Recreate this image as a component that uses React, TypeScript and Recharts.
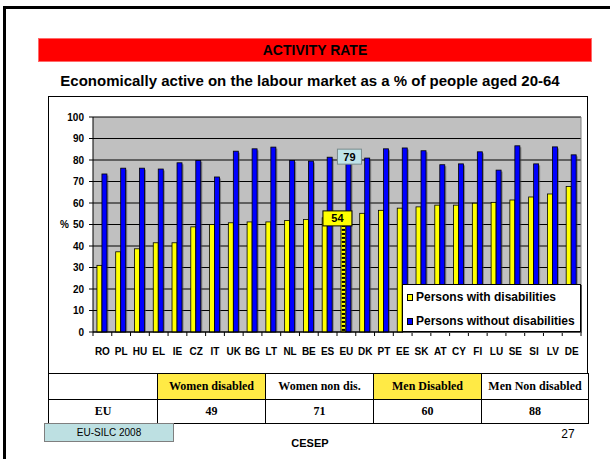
import React from "react";
import { BarChart, Bar, XAxis, YAxis, CartesianGrid } from "recharts";

const countries = [
  "RO", "PL", "HU", "EL", "IE", "CZ", "IT", "UK", "BG", "LT", "NL", "BE", "ES",
  "EU", "DK", "PT", "EE", "SK", "AT", "CY", "FI", "LU", "SE", "SI", "LV", "DE",
];
const withDisabilities = [
  31, 37.3, 38.7, 41.5, 41.5, 48.9, 50, 50.8, 51.2, 51.2, 51.9, 52.3, 53.1,
  54, 55.2, 56.6, 57.6, 58.2, 59, 59, 59.9, 60.3, 61.4, 62.8, 64.2, 67.7,
];
const withoutDisabilities = [
  73.5, 76.2, 76.2, 75.8, 78.7, 79.8, 72.1, 84.1, 85.2, 86, 79.8, 79.5, 81.3,
  79, 80.9, 85.2, 85.6, 84.3, 77.8, 78.2, 83.8, 75.3, 86.6, 78.2, 86.1, 82.4,
];
const yTicks = [0, 10, 20, 30, 40, 50, 60, 70, 80, 90, 100];
const seriesNames = ["Persons with disabilities", "Persons without disabilities"];
const tableHeads = ["Women disabled", "Women non dis.", "Men Disabled", "Men Non disabled"];
const tableRowLabel = "EU";
const tableEU = [49, 71, 60, 88];

const chartData = countries.map((country, i) => ({
  country,
  with: withDisabilities[i],
  without: withoutDisabilities[i],
}));

const SANS = "'Liberation Sans', Arial, sans-serif";
const SERIF = "'Liberation Serif', 'Times New Roman', serif";
const YELLOW = "#ffff00";
const BLUE = "#0000ff";

// chart geometry (inside the bordered chart box)
const CHART_W = 538;
const CHART_H = 276;
const MARGIN = { top: 20, right: 6, bottom: 11, left: 0 };
const Y_AXIS_W = 44;
const X_AXIS_H = 30;
const PLOT_LEFT = MARGIN.left + Y_AXIS_W;
const PLOT_RIGHT = CHART_W - MARGIN.right;
const PLOT_BOTTOM = CHART_H - MARGIN.bottom - X_AXIS_H;
const BAND = (PLOT_RIGHT - PLOT_LEFT) / countries.length;
const EU_INDEX = countries.indexOf("EU");

function YellowBar(props: any) {
  const { x, y, width, height, index } = props;
  if (!(height > 0)) return <g />;
  const stripes = [];
  if (index === EU_INDEX) {
    for (let sy = y + 1; sy < y + height - 1; sy += 4) {
      stripes.push(
        <rect key={sy} x={x + 0.8} y={sy} width={width - 1.6}
          height={Math.min(2, y + height - sy)} fill="#000" />
      );
    }
  }
  return (
    <g>
      <rect x={x + 1.5} y={y + 1.5} width={width} height={height - 1.5} fill="#4d4d4d" fillOpacity={0.55} />
      <rect x={x} y={y} width={width} height={height} fill={YELLOW} stroke="#000" strokeWidth={0.8} />
      {stripes}
    </g>
  );
}

function BlueBar(props: any) {
  const { x, y, width, height, index } = props;
  if (!(height > 0)) return <g />;
  let labels = null;
  if (index === EU_INDEX) {
    // yellow bar top from the same scale as this bar
    const perUnit = height / withoutDisabilities[index];
    const yellowTop = y + height - withDisabilities[index] * perUnit;
    const yx = x - width + width / 2 - 6;
    const bx = x + width / 2 + 1;
    labels = (
      <g fontFamily={SANS} fontWeight="bold" fontSize={11}>
        <rect x={yx - 14.5} y={yellowTop - 5} width={29} height={15} fill={YELLOW} stroke="#000" strokeWidth={1} />
        <text x={yx} y={yellowTop + 6.5} textAnchor="middle" fill="#000">
          {Math.round(withDisabilities[index])}
        </text>
        <rect x={bx - 12} y={y - 13} width={24} height={15} fill="#bfe3e8" stroke="#7a8a8c" strokeWidth={1} />
        <text x={bx} y={y - 1.5} textAnchor="middle" fill="#000">
          {Math.round(withoutDisabilities[index])}
        </text>
      </g>
    );
  }
  return (
    <g>
      <rect x={x + 1.5} y={y + 1.5} width={width} height={height - 1.5} fill="#4d4d4d" fillOpacity={0.55} />
      <rect x={x} y={y} width={width} height={height} fill={BLUE} stroke="#000" strokeWidth={0.8} />
      {labels}
    </g>
  );
}

function CountryTick(props: any) {
  const { x, payload, index } = props;
  const left = x - BAND / 2;
  return (
    <g>
      <line x1={left} x2={left} y1={PLOT_BOTTOM} y2={PLOT_BOTTOM + 4} stroke="#000" />
      {index === countries.length - 1 && (
        <line x1={left + BAND} x2={left + BAND} y1={PLOT_BOTTOM} y2={PLOT_BOTTOM + 4} stroke="#000" />
      )}
      <text x={x} y={PLOT_BOTTOM + 22.5} textAnchor="middle" fontSize={10}
        fontWeight="bold" fontFamily={SANS} fill="#000">
        {payload.value}
      </text>
    </g>
  );
}

const colX = [48, 157, 265, 373, 481, 588];
const rowY = [373, 399, 423];

export default function App() {
  const tableRows = [["", ...tableHeads], [tableRowLabel, ...tableEU.map(String)]];
  return (
    <div style={{ position: "absolute", left: 0, top: 0, width: 610, height: 459, overflow: "hidden", background: "#fff", fontFamily: SANS }}>
      <div style={{ position: "absolute", left: 3, top: 6, width: 700, height: 600, borderLeft: "3px solid #000", borderTop: "3px solid #000" }} />

      <div style={{ position: "absolute", left: 38, top: 38, width: 554, height: 24, boxSizing: "border-box", background: "#ff0000", border: "1px solid #ff6a6a", textAlign: "center", lineHeight: "22px", fontWeight: "bold", fontSize: 14, color: "#000" }}>
        ACTIVITY RATE
      </div>

      <div style={{ position: "absolute", left: 33, top: 71, width: 554, height: 20, textAlign: "center", lineHeight: "20px", fontWeight: "bold", fontSize: 15, color: "#000" }}>
        Economically active on the labour market as a % of people aged 20-64
      </div>

      <div style={{ position: "absolute", left: 48, top: 96, width: 540, height: 278, boxSizing: "border-box", border: "1px solid #000", background: "#fff" }}>
        <BarChart width={CHART_W} height={CHART_H} data={chartData} margin={MARGIN} barCategoryGap="21%" barGap={0}>
          <CartesianGrid vertical={false} stroke="#000" fill="#c0c0c0" fillOpacity={1} />
          <CartesianGrid horizontal={false} verticalPoints={[PLOT_RIGHT]} stroke="#808080" />
          <XAxis dataKey="country" interval={0} height={X_AXIS_H} tickLine={false}
            axisLine={{ stroke: "#000" }} tick={(p: any) => <CountryTick {...p} />} />
          <YAxis type="number" domain={[0, 100]} ticks={yTicks} interval={0} width={Y_AXIS_W}
            tickSize={4} tickMargin={5} axisLine={{ stroke: "#000" }} tickLine={{ stroke: "#000" }}
            tick={{ fontSize: 10, fontWeight: "bold", fill: "#000", fontFamily: SANS }}
            label={{ value: "%", position: "insideLeft", offset: 11, style: { fontSize: 10, fontWeight: "bold", fill: "#000", fontFamily: SANS } }} />
          <Bar dataKey="with" name={seriesNames[0]} fill={YELLOW} shape={(p: any) => <YellowBar {...p} />} isAnimationActive={false} />
          <Bar dataKey="without" name={seriesNames[1]} fill={BLUE} shape={(p: any) => <BlueBar {...p} />} isAnimationActive={false} />
        </BarChart>

        <div style={{ position: "absolute", left: 353, top: 187, width: 179, height: 48, boxSizing: "border-box", background: "#fff", border: "1px solid #000", boxShadow: "1px 1px 0 #555" }}>
          {seriesNames.map((name, i) => (
            <div key={name}>
              <div style={{ position: "absolute", left: 4, top: 8.5 + i * 24.5, width: 6, height: 7, boxSizing: "border-box", border: "1px solid #000", background: i === 0 ? YELLOW : BLUE }} />
              <div style={{ position: "absolute", left: 13, top: 4.5 + i * 24.5, lineHeight: "15px", fontSize: 12, fontWeight: "bold", color: "#000", whiteSpace: "nowrap" }}>
                {name}
              </div>
            </div>
          ))}
        </div>
      </div>

      {tableRows.map((row, r) =>
        row.map((cell, c) => (
          <div key={`${r}-${c}`} style={{
            position: "absolute", left: colX[c], top: rowY[r], width: colX[c + 1] - colX[c] + 1, height: rowY[r + 1] - rowY[r] + 1,
            boxSizing: "border-box", border: "1px solid #000",
            background: r === 0 && (c === 1 || c === 3) ? "#ffea45" : "#fff",
            display: "flex", alignItems: "center", justifyContent: "center",
            fontFamily: SERIF, fontWeight: "bold", fontSize: 12, color: "#000",
          }}>
            {cell}
          </div>
        ))
      )}

      <div style={{ position: "absolute", left: 44, top: 423, width: 130, height: 19, boxSizing: "border-box", background: "#bde0e2", border: "1px solid #7f7f7f", textAlign: "center", lineHeight: "17px", fontSize: 10, color: "#000" }}>
        EU-SILC 2008
      </div>
      <div style={{ position: "absolute", left: 260, top: 435, width: 100, textAlign: "center", fontSize: 11, fontWeight: "bold", color: "#000", lineHeight: "16px" }}>
        CESEP
      </div>
      <div style={{ position: "absolute", left: 548, top: 426, width: 40, textAlign: "center", fontSize: 12, color: "#000", lineHeight: "16px" }}>
        27
      </div>
    </div>
  );
}
